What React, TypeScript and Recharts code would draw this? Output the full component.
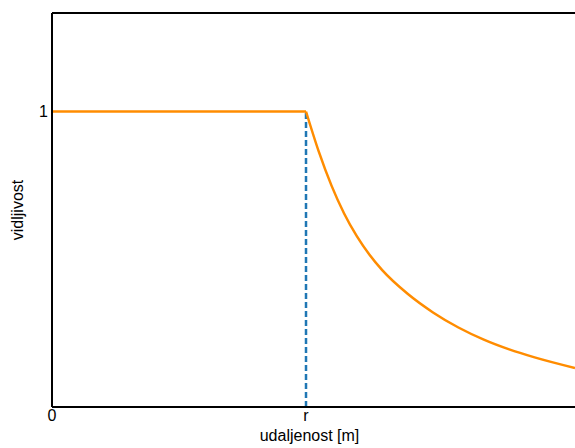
import React from 'react';
import { ComposedChart, Line, XAxis, YAxis, ReferenceLine } from 'recharts';

// distance in units of r, visibility 0..1
const flatDistance = [0, 1];
const flatVisibility = [1, 1];

const decayDistance = [1, 1.05, 1.1, 1.15, 1.2, 1.25, 1.3, 1.4, 1.5, 1.6, 1.7, 1.8, 1.9, 2.059];
const decayVisibility = [1, 0.865, 0.75, 0.655, 0.578, 0.515, 0.463, 0.383, 0.32, 0.269, 0.228, 0.195, 0.168, 0.132];

const xTicks = [0, 1];
const xTickLabels = ['0', 'r'];
const yTicks = [1];
const yTickLabels = ['1'];

const X_MAX = 2.059;
const Y_MAX = 4 / 3;

const data = [
    ...flatDistance.map((d, i) => ({ d, flat: flatVisibility[i] })),
    ...decayDistance.map((d, i) => ({ d, decay: decayVisibility[i] })),
];

const font = { fontFamily: '"Liberation Sans", Arial, sans-serif', fontSize: 16, fill: '#000' };

export default function App() {
    return (
        <div style={{ position: 'absolute', left: 0, top: 0, width: 575, height: 448, background: '#fff' }}>
            <ComposedChart
                width={575}
                height={448}
                data={data}
                margin={{ top: 13, right: 0, left: 0, bottom: 0 }}
            >
                <XAxis
                    dataKey="d"
                    type="number"
                    domain={[0, X_MAX]}
                    allowDataOverflow
                    ticks={xTicks}
                    tickFormatter={(v: number) => xTickLabels[xTicks.indexOf(v)] ?? ''}
                    tickLine={false}
                    tickSize={1}
                    tick={font}
                    height={41}
                    axisLine={{ stroke: '#000', strokeWidth: 2 }}
                    label={{ value: 'udaljenost [m]', position: 'insideBottom', offset: 7, dx: -4, style: font }}
                />
                <YAxis
                    type="number"
                    domain={[0, Y_MAX]}
                    allowDataOverflow
                    ticks={yTicks}
                    tickFormatter={(v: number) => yTickLabels[yTicks.indexOf(v)] ?? ''}
                    tickLine={false}
                    tickSize={2}
                    tick={font}
                    width={52}
                    axisLine={{ stroke: '#000', strokeWidth: 2 }}
                    label={{ value: 'vidljivost', angle: -90, position: 'insideLeft', offset: 17, style: { ...font, textAnchor: 'middle' } }}
                />
                <ReferenceLine y={Y_MAX} stroke="#000" strokeWidth={2} ifOverflow="visible" />
                <ReferenceLine
                    segment={[{ x: 1, y: 0 }, { x: 1, y: 1 }]}
                    stroke="#1f77b4"
                    strokeWidth={2.5}
                    strokeDasharray="6 3"
                />
                <Line
                    dataKey="flat"
                    type="linear"
                    stroke="#ff8c00"
                    strokeWidth={2.5}
                    dot={false}
                    connectNulls={false}
                    isAnimationActive={false}
                />
                <Line
                    dataKey="decay"
                    type="monotone"
                    stroke="#ff8c00"
                    strokeWidth={2.5}
                    dot={false}
                    connectNulls={false}
                    isAnimationActive={false}
                />
            </ComposedChart>
        </div>
    );
}
